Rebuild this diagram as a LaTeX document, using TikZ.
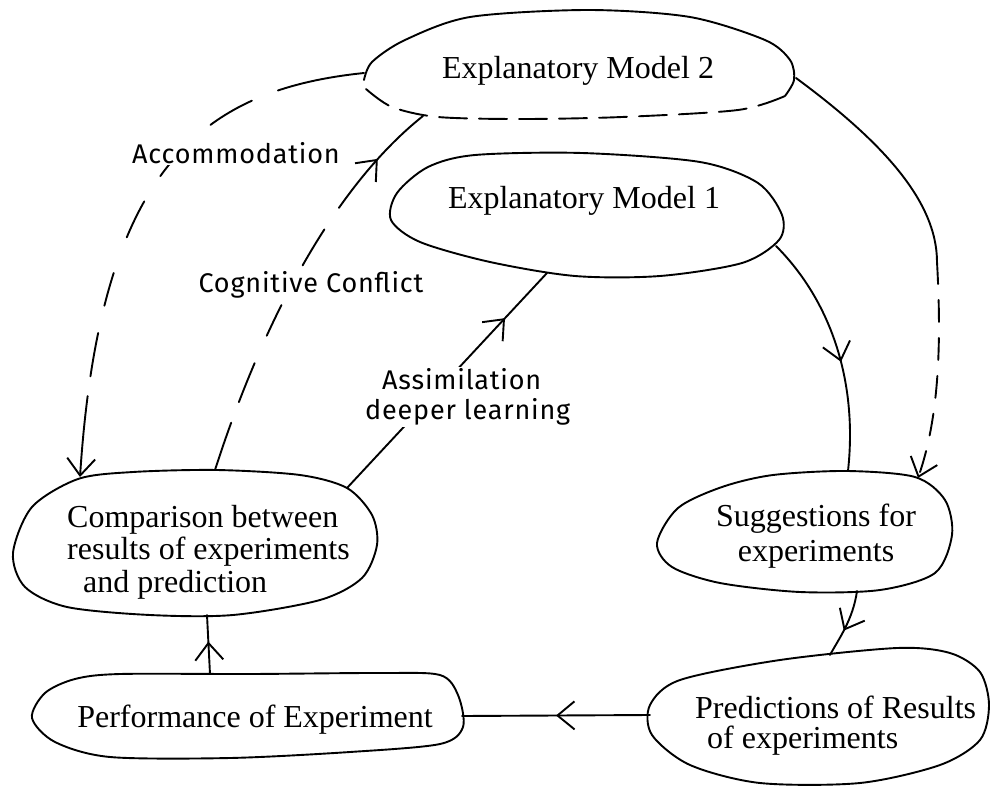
\documentclass[tikz,border=0pt]{standalone}
\usepackage{fontspec}
\setmainfont{Liberation Serif}
\newfontfamily\handfont[LetterSpace=3]{Fira Sans}
\usetikzlibrary{arrows.meta,decorations.markings}

\begin{document}
\begin{tikzpicture}[x=1pt,y=-1pt,
  line cap=round, line join=round,
  outline/.style={draw=black, line width=1.9pt},
  boxtext/.style={font=\fontsize{32}{35}\selectfont, inner sep=0pt},
  handlabel/.style={font=\handfont\fontsize{27}{30}\selectfont, fill=white, inner sep=2pt},
  conn/.style={draw=black, line width=1.9pt},
  barb/.tip={Straight Barb[length=17pt,width=28pt]},
  midarrow/.style={postaction={decoration={markings, mark=at position #1 with {\arrow{barb}}}, solid, decorate}},
  endarrow/.style={-barb}
]
% canvas
\fill[white] (0,0) rectangle (991,787);
\useasboundingbox (0,0) rectangle (991,787);

% ---- outlines of the stages ----
% Explanatory Model 2: solid top, dashed bottom
\draw[outline] plot[smooth] coordinates {(785,96) (794,80) (790,60) (765,40) (690,17) (588,10) (470,17) (405,40) (372,62) (364,80)};
\draw[outline, dash pattern=on 28pt off 12pt] plot[smooth] coordinates {(366,89) (392,107) (438,117) (522,119) (622,117) (738,110) (785,96)};
% Explanatory Model 1
\draw[outline] plot[smooth cycle] coordinates {(475,155) (582,153) (700,162) (758,183) (782,215) (779,240) (742,263) (660,276) (575,276) (490,262) (420,242) (391,220) (397,193) (428,167)};
% Comparison
\draw[outline] plot[smooth cycle] coordinates {(133,472) (217,470) (300,475) (347,488) (372,515) (377,545) (362,578) (320,600) (233,615) (150,615) (67,607) (25,587) (13,553) (32,507) (78,479)};
% Suggestions
\draw[outline] plot[smooth cycle] coordinates {(773,475) (847,471) (915,477) (945,500) (952,535) (935,573) (880,590) (800,592) (720,583) (672,567) (657,543) (678,508) (722,487)};
% Predictions
\draw[outline] plot[smooth cycle] coordinates {(780,660) (897,648) (950,653) (980,672) (989,705) (980,740) (940,765) (860,783) (760,783) (690,765) (652,735) (650,705) (680,680)};
% Performance
\draw[outline] plot[smooth cycle] coordinates {(120,674) (250,674) (380,673) (440,675) (458,695) (463,727) (440,744) (350,752) (230,758) (110,757) (55,742) (32,718) (45,693) (75,679)};

% ---- stage texts ----
\node[boxtext, anchor=base] (m2) at (578,78) {Explanatory Model 2};
\node[boxtext, anchor=base] (m1) at (584,208) {Explanatory Model 1};
\node[boxtext, anchor=west, align=left, font=\fontsize{32}{32.5}\selectfont] (cmp) at (67,552)
  {Comparison between\\results of experiments\\\hspace*{16pt}and prediction};
\node[boxtext, align=center, font=\fontsize{32}{35}\selectfont] (sug) at (816,536)
  {Suggestions for\\experiments};
\node[boxtext, anchor=west, align=left, font=\fontsize{32}{30}\selectfont] (pred) at (695,726)
  {Predictions of Results\\\hspace*{12pt}of experiments};
\node[boxtext, anchor=base] (perf) at (255,727) {Performance of Experiment};

% ---- attachment points on the outlines ----
\coordinate (m2-w) at (364,73);
\coordinate (m2-e) at (796,78);
\coordinate (m2-sw) at (423,116);
\coordinate (m1-se) at (776,246);
\coordinate (m1-sw) at (547,273);
\coordinate (cmp-nw) at (80,477);
\coordinate (cmp-n) at (215,470);
\coordinate (cmp-ne) at (347,488);
\coordinate (cmp-s) at (207,615);
\coordinate (sug-n) at (848,471);
\coordinate (sug-ne) at (918,478);
\coordinate (sug-s) at (857,591);
\coordinate (pred-n) at (830,655);
\coordinate (pred-w) at (650,715);
\coordinate (perf-n) at (210,674);
\coordinate (perf-e) at (462,716);
\coordinate (m2-bend) at (937,262);

% ---- connectors ----
% Model 1 -> Suggestions
\draw[conn, midarrow=0.55] (m1-se) .. controls (830,300) and (858,380) .. (sug-n);
% Model 2 -> Suggestions (solid, then dashed)
\draw[conn] (m2-e) .. controls (880,140) and (937,200) .. (m2-bend);
\draw[conn, endarrow, dash pattern=on 22pt off 16pt] (m2-bend) .. controls (942,350) and (938,420) .. (sug-ne);
% Suggestions -> Predictions
\draw[conn, midarrow=0.6] (sug-s) .. controls (853,620) and (838,640) .. (pred-n);
% Predictions -> Performance
\draw[conn, midarrow=0.5] (pred-w) -- (perf-e);
% Performance -> Comparison
\draw[conn, midarrow=0.55] (perf-n) -- (cmp-s);
% Comparison -> Model 1 (assimilation)
\draw[conn, midarrow=0.79] (cmp-ne) -- (m1-sw);
% Comparison -> Model 2 (cognitive conflict)
\draw[conn, dash pattern=on 50pt off 22pt on 42pt off 30pt on 34pt off 45pt on 42pt off 26pt on 300pt, midarrow=0.85]
  (cmp-n) .. controls (260,330) and (330,190) .. (m2-sw);
% Model 2 -> Comparison (accommodation)
\draw[conn, endarrow, dash pattern=on 88pt off 28pt on 48pt off 40pt on 32pt off 30pt on 40pt off 38pt on 34pt off 28pt on 44pt off 20pt on 80pt]
  (m2-w) .. controls (200,90) and (100,170) .. (cmp-nw);

% ---- handwritten labels ----
\node[handlabel, anchor=base] (accom) at (236,163) {Accommodation};
\node[handlabel, anchor=base] (conflict) at (311,292) {Cognitive Conflict};
\node[handlabel, anchor=west, align=left, font=\handfont\fontsize{27}{30}\selectfont] (assim) at (363,397)
  {\hspace*{17pt}Assimilation\\deeper learning};
\end{tikzpicture}
\end{document}
